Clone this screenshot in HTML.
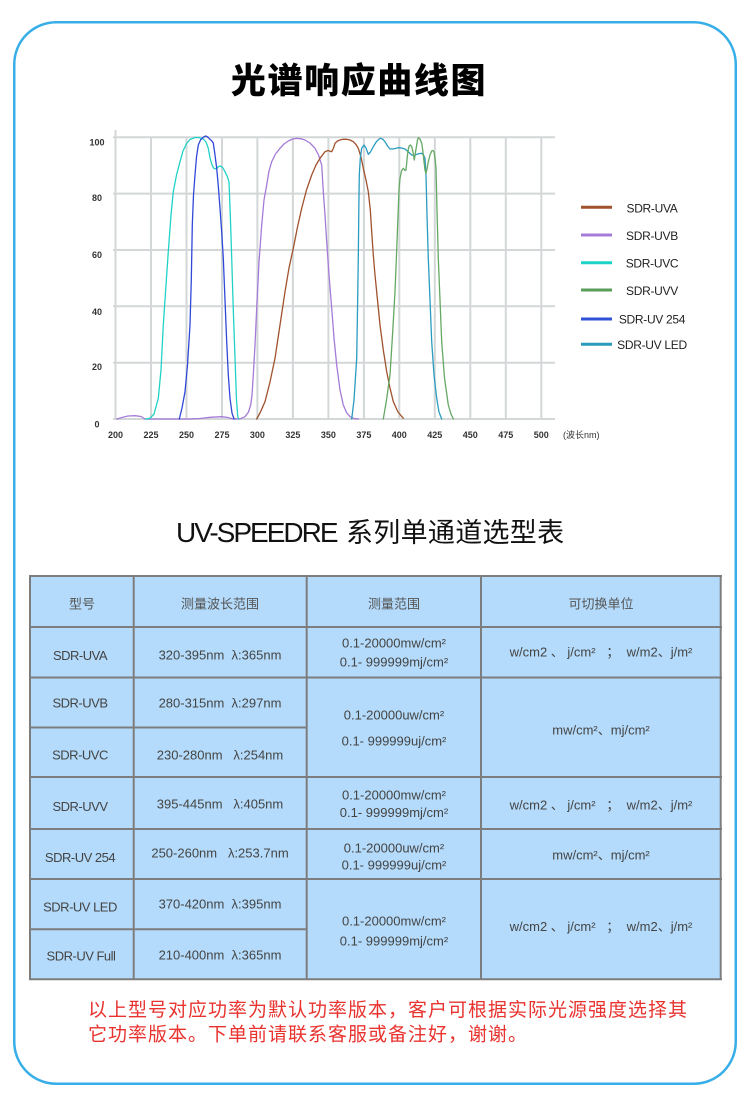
<!DOCTYPE html>
<html><head><meta charset="utf-8">
<style>
html,body{margin:0;padding:0;background:#fff;}
body{width:750px;height:1106px;position:relative;overflow:hidden;}
svg{position:absolute;left:0;top:0;}
</style></head>
<body>
<svg width="750" height="1106" viewBox="0 0 750 1106" xmlns="http://www.w3.org/2000/svg">
<!-- frame -->
<rect x="14.25" y="22.25" width="721.5" height="1061.5" rx="42" fill="none" stroke="#38aee8" stroke-width="2.5"/>

<!-- title -->
<text x="359" y="93" text-anchor="middle" font-family="'Noto Sans CJK SC','WenQuanYi Zen Hei',sans-serif" font-weight="900" font-size="35" letter-spacing="1.6" fill="#000">光谱响应曲线图</text>

<!-- chart grid -->
<g stroke="#d3d7d7" stroke-width="2" fill="none">
<line x1="113" y1="137.3" x2="555" y2="137.3"/>
<line x1="113" y1="193.6" x2="555" y2="193.6"/>
<line x1="113" y1="250" x2="555" y2="250"/>
<line x1="113" y1="306.3" x2="555" y2="306.3"/>
<line x1="113" y1="362.7" x2="555" y2="362.7"/>
<line x1="113" y1="419" x2="555" y2="419"/>
<line x1="115.5" y1="130" x2="115.5" y2="420"/>
<line x1="151" y1="137" x2="151" y2="420"/>
<line x1="186.5" y1="137" x2="186.5" y2="420"/>
<line x1="222" y1="137" x2="222" y2="420"/>
<line x1="257.4" y1="137" x2="257.4" y2="420"/>
<line x1="292.9" y1="137" x2="292.9" y2="420"/>
<line x1="328.4" y1="137" x2="328.4" y2="420"/>
<line x1="363.9" y1="137" x2="363.9" y2="420"/>
<line x1="399.3" y1="137" x2="399.3" y2="420"/>
<line x1="434.8" y1="137" x2="434.8" y2="420"/>
<line x1="470.3" y1="137" x2="470.3" y2="420"/>
<line x1="505.8" y1="137" x2="505.8" y2="420"/>
<line x1="541.3" y1="137" x2="541.3" y2="420"/>
</g>

<!-- axis labels -->
<g font-family="'Liberation Sans',sans-serif" font-weight="bold" font-size="9" fill="#333" text-anchor="middle">
<text x="97" y="145.5">100</text>
<text x="97" y="201">80</text>
<text x="97" y="258">60</text>
<text x="97" y="315">40</text>
<text x="97" y="370">20</text>
<text x="97" y="427.5">0</text>
<text x="115.5" y="438">200</text>
<text x="151" y="438">225</text>
<text x="186.5" y="438">250</text>
<text x="222" y="438">275</text>
<text x="257.4" y="438">300</text>
<text x="292.9" y="438">325</text>
<text x="328.4" y="438">350</text>
<text x="363.9" y="438">375</text>
<text x="399.3" y="438">400</text>
<text x="434.8" y="438">425</text>
<text x="470.3" y="438">450</text>
<text x="505.8" y="438">475</text>
<text x="541.3" y="438">500</text>
</g>
<text x="563" y="438" font-family="'Liberation Sans','Noto Sans CJK SC',sans-serif" font-size="9" fill="#333">(波长nm)</text>

<!-- curves -->
<g fill="none" stroke-width="1.3" stroke-linejoin="round" stroke-linecap="round">
<polyline stroke="#a57bd8" points="116.7,419 122,417.5 128,416 135,415.7 141,416.5 145,419 150,419 190,419 200,418.5 210,417.3 221.7,416.7 228,417.5 232,418.6 236.7,419 241,418.5 245,416.7 248.5,412 250.7,405 252,395 253.3,375 255,345 256.7,308.3 259,262 261.7,225 264,200 266.7,185 269,171 271.7,161.7 275.5,154 280,148.3 284,144 288.3,141 292.5,139 296.7,138.3 301,138.8 305,140 310,143 315,148.3 318.5,155 321.7,165 323.3,191.7 325,215 326.7,241.7 329,275 331.7,308.3 334,338 336.7,365 340,390 343.3,405 346.5,412.5 350,416.7 354,418.5 358.3,419"/>
<polyline stroke="#20d2c6" points="145.7,419 150,418.3 154,414 158.3,398.3 161,370 163.3,325 166,285 168.3,251.7 171,215 173.3,191.7 176.5,175 180,161.7 183,151 186.7,143.3 190,139.5 195,137.5 199,137.5 203.3,139 206,142 208.3,148.3 210,158 212,165 214,168.5 216.5,169 218.5,166.5 220.5,166 223,168 225,171.7 227.5,177 229,182 230.3,215 231.7,258 233.3,310 235,358 236.5,400 237.7,416 238.5,419"/>
<polyline stroke="#3048d8" points="179.3,419 182,408 185,391.7 187.5,365 190,325 191.3,280 192.3,225 193.5,195 195,175 196.5,157 198.3,145 200.5,140 203.3,137.2 205.7,136 207.5,136.8 209.5,139 211.5,140.5 213.3,143 215,155 216.7,168.3 218.3,186 220,208.3 221.7,232 223.3,258.3 225,300 226.7,341.7 228.3,375 230,398.3 232,413 234,419"/>
<polyline stroke="#a0522d" points="256.7,419 260,413 265,401.7 270,382 275,358.3 280,325 285,291.7 289,268 293.3,248.3 297.5,227 301.7,208.3 306.5,190 311.7,175 316,165 320,158.3 325,151.7 328,150.5 331.7,151.7 333.5,148 335,143.3 337.5,141 340,140 343,139.3 346.7,139.3 350,140 353.3,141.7 356,144.5 358.3,148.3 361,157 363.3,168.3 366,180 368.3,191.7 370.3,210 371.7,231.7 373.3,255 375,275 377.5,300 380,325 383.3,350 386.7,371.7 390,388 393.3,401.7 398,412 403.3,418.3"/>
<polyline stroke="#2a9cc0" points="351.7,419 354,400 356.7,358.3 357.5,310 358.3,258.3 358.8,210 359.3,175 360.3,158 361.7,148.3 364,145 366,148 368.3,154.3 370.5,152 373.3,146.7 376.5,141.5 380,138.3 382.5,139 385,141.7 387.5,146 390,149 394,148.8 398.3,147.7 401.5,148 405,149 408.5,152 411.7,155 414,155.5 416.7,154.3 419,153.6 421.7,153.3 423.5,155 425,158.3 426,175 427,215 428.3,258.3 430,300 431.7,341.7 434,375 436.7,398.3 439,412 441.7,419"/>
<polyline stroke="#64a864" points="383.3,419 386.5,400 390,375 392.5,335 395,291.7 396.7,250 398.3,208.3 399,190 400,178.3 401.5,171 403.3,168.3 405,170.5 406,170 407.3,156.7 408.3,149 409.3,145.7 410.5,145 411.7,146.7 413,152 414.3,160 415.5,152 416.7,145 417.5,140 418.3,137.7 420,139 421.7,143.3 423,152 424,161.7 425,170 426,173.3 427,169 428.3,161.7 430,155 431.7,151 433,150.5 434,151.7 435,158 436,168.3 437,210 438.3,258.3 440,300 441.7,341.7 444.5,378 448.3,405 451,414 453.3,419"/>
</g>

<!-- legend -->
<g stroke-width="3">
<line x1="581" y1="207.3" x2="612" y2="207.3" stroke="#a0522d"/>
<line x1="581" y1="235" x2="612" y2="235" stroke="#a57bd8"/>
<line x1="581" y1="262.7" x2="612" y2="262.7" stroke="#1ed2c8"/>
<line x1="581" y1="290" x2="612" y2="290" stroke="#5b9e5b"/>
<line x1="581" y1="319" x2="612" y2="319" stroke="#3050d8"/>
<line x1="581" y1="344.3" x2="612" y2="344.3" stroke="#2a9abb"/>
</g>
<g font-family="'Liberation Sans',sans-serif" font-size="12" fill="#222" text-anchor="middle" letter-spacing="-0.3">
<text x="652" y="212.5">SDR-UVA</text>
<text x="652" y="240">SDR-UVB</text>
<text x="652" y="267.5">SDR-UVC</text>
<text x="652" y="295">SDR-UVV</text>
<text x="652" y="323.5">SDR-UV 254</text>
<text x="652" y="349">SDR-UV LED</text>
</g>

<!-- second title -->
<text x="176" y="542" font-family="'Liberation Sans','Noto Sans CJK SC',sans-serif" font-size="28" fill="#111"><tspan letter-spacing="-2">UV-SPEEDRE</tspan><tspan font-family="'Noto Sans CJK SC',sans-serif" font-size="27" x="346" letter-spacing="0.3">系列单通道选型表</tspan></text>

<!-- table -->
<rect x="30" y="576" width="691" height="403" fill="#b4dbfb"/>
<g stroke="#7d7d7d" stroke-width="2">
<line x1="29" y1="576" x2="722" y2="576"/>
<line x1="29" y1="627" x2="722" y2="627"/>
<line x1="29" y1="677.5" x2="722" y2="677.5"/>
<line x1="29" y1="727.5" x2="307" y2="727.5"/>
<line x1="29" y1="777" x2="722" y2="777"/>
<line x1="29" y1="829" x2="722" y2="829"/>
<line x1="29" y1="879" x2="722" y2="879"/>
<line x1="29" y1="929.3" x2="307" y2="929.3"/>
<line x1="29" y1="979.3" x2="722" y2="979.3"/>
<line x1="30" y1="575" x2="30" y2="980"/>
<line x1="133.7" y1="575" x2="133.7" y2="980"/>
<line x1="306.7" y1="575" x2="306.7" y2="980"/>
<line x1="481" y1="575" x2="481" y2="980"/>
<line x1="720.7" y1="575" x2="720.7" y2="980"/>
</g>

<g font-family="'Liberation Sans','Noto Sans CJK SC',sans-serif" font-size="13" fill="#555" text-anchor="middle">
<text x="82" y="608.5">型号</text>
<text x="220" y="608.5">测量波长范围</text>
<text x="394" y="608.5">测量范围</text>
<text x="601" y="608.5">可切换单位</text>
</g>

<g font-family="'Liberation Sans','Noto Sans CJK SC',sans-serif" font-size="13" fill="#444" text-anchor="middle">
<g letter-spacing="-0.5">
<text x="80" y="660">SDR-UVA</text>
<text x="80" y="707.5">SDR-UVB</text>
<text x="80" y="759.5">SDR-UVC</text>
<text x="80" y="811">SDR-UVV</text>
<text x="80" y="862">SDR-UV 254</text>
<text x="80" y="911.5">SDR-UV LED</text>
<text x="81" y="960.5">SDR-UV Full</text>
</g>
<text x="220" y="659.5">320-395nm&#160;&#160;λ:365nm</text>
<text x="220" y="707.5">280-315nm&#160;&#160;λ:297nm</text>
<text x="220" y="759.5">230-280nm&#160;&#160;&#160;λ:254nm</text>
<text x="220" y="808.5">395-445nm&#160;&#160;&#160;λ:405nm</text>
<text x="220" y="857.5">250-260nm&#160;&#160;&#160;λ:253.7nm</text>
<text x="220" y="908.5">370-420nm&#160;&#160;λ:395nm</text>
<text x="220" y="959.5">210-400nm&#160;&#160;λ:365nm</text>

<text x="394" y="647.5">0.1-20000mw/cm²</text>
<text x="394" y="666.5">0.1- 999999mj/cm²</text>
<text x="394" y="719.5">0.1-20000uw/cm²</text>
<text x="394" y="745.5">0.1- 999999uj/cm²</text>
<text x="394" y="799.5">0.1-20000mw/cm²</text>
<text x="394" y="817">0.1- 999999mj/cm²</text>
<text x="394" y="852.5">0.1-20000uw/cm²</text>
<text x="394" y="869.5">0.1- 999999uj/cm²</text>
<text x="394" y="925.5">0.1-20000mw/cm²</text>
<text x="394" y="945.5">0.1- 999999mj/cm²</text>

<text x="601" y="656.5">w/cm2&#160;、&#160;j/cm²&#160;&#160;&#160;；&#160;&#160;w/m2、j/m²</text>
<text x="601" y="734.5">mw/cm²、mj/cm²</text>
<text x="601" y="809.5">w/cm2&#160;、&#160;j/cm²&#160;&#160;&#160;；&#160;&#160;w/m2、j/m²</text>
<text x="601" y="859.5">mw/cm²、mj/cm²</text>
<text x="601" y="931">w/cm2&#160;、&#160;j/cm²&#160;&#160;&#160;；&#160;&#160;w/m2、j/m²</text>
</g>

<!-- red note -->
<g font-family="'Liberation Sans','Noto Sans CJK SC',sans-serif" font-size="19" fill="#e8332f" letter-spacing="1">
<text x="88" y="1016">以上型号对应功率为默认功率版本，客户可根据实际光源强度选择其</text>
<text x="88" y="1040.5">它功率版本。下单前请联系客服或备注好，谢谢。</text>
</g>
</svg>
</body></html>
